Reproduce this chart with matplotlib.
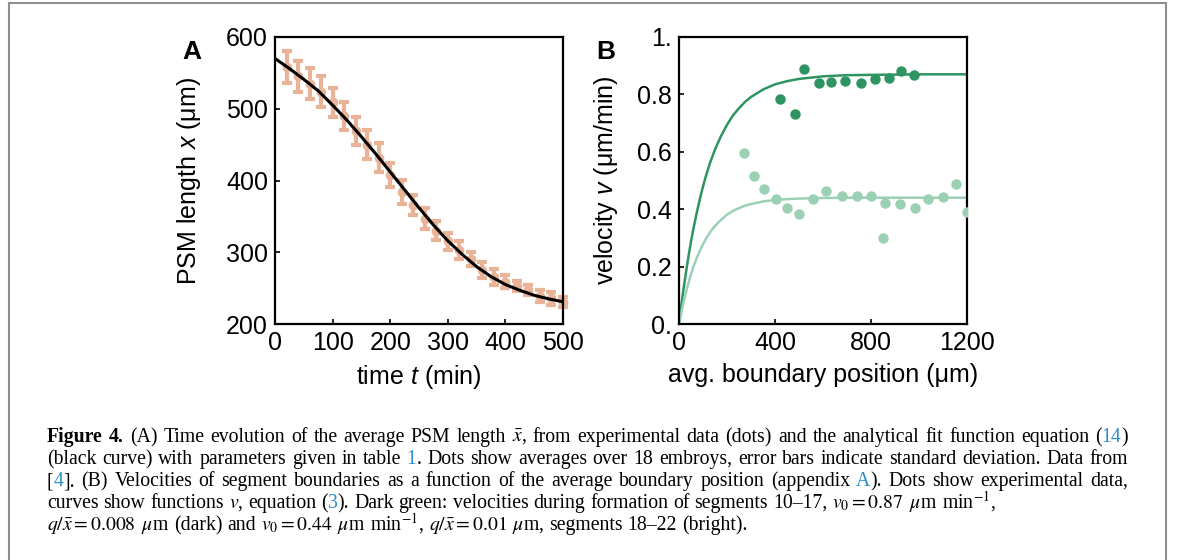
import numpy as np
import matplotlib
matplotlib.use('Agg')
import matplotlib.pyplot as plt
from matplotlib.patches import Rectangle

W, H, DPI = 1182, 560, 100

plt.rcParams['font.family'] = 'Liberation Sans'
plt.rcParams['mathtext.fontset'] = 'custom'
plt.rcParams['mathtext.rm'] = 'Liberation Sans'
plt.rcParams['mathtext.it'] = 'Liberation Sans:italic'
plt.rcParams['mathtext.bf'] = 'Liberation Sans:bold'

# --- panel A: average PSM length vs time (mean, sd over 18 embryos)
t_min = [20, 40, 60, 80, 100, 120, 140, 160, 180, 200, 220, 240, 260,
         280, 300, 320, 340, 360, 380, 400, 420, 440, 460, 480, 500]
psm_len = [558, 545, 535, 524, 509, 490, 469, 450, 432, 408, 384, 366, 347,
           330, 315, 303, 291, 275, 266, 259, 253, 247, 239, 236, 231]
psm_sd = [22, 21, 22, 21, 20, 19, 20, 20, 20, 17, 17, 14, 14,
          13, 12, 12, 10, 11, 11, 9, 7, 7, 8, 9, 7]

# analytical fit (black curve)
fit_t = [0, 25, 50, 75, 100, 125, 150, 175, 200, 225, 250, 275, 300,
         325, 350, 375, 400, 425, 450, 475, 500]
fit_len = [570, 556, 541, 525, 505, 484, 461, 437, 412, 387, 362, 338, 316,
           297, 280, 266, 255, 247, 240, 235, 231]

# --- panel B: boundary velocities vs average boundary position
dark_pos = [419, 483, 519, 583, 633, 693, 758, 818, 873, 924, 980]
dark_vel = [0.783, 0.731, 0.887, 0.838, 0.843, 0.847, 0.838, 0.855, 0.857, 0.882, 0.867]
light_pos = [271, 314, 354, 405, 452, 502, 558, 614, 680, 740, 798, 851, 857,
             919, 982, 1039, 1098, 1154, 1200]
light_vel = [0.597, 0.515, 0.469, 0.436, 0.403, 0.382, 0.435, 0.463, 0.447, 0.447,
             0.445, 0.298, 0.422, 0.418, 0.403, 0.435, 0.441, 0.487, 0.390]

# model curves v
curve_x = [0, 5, 10, 20, 30, 40, 50, 60, 75, 90, 100, 115, 130, 150, 175, 200,
           225, 250, 275, 300, 350, 400, 450, 500, 600, 700, 800, 1000, 1200]
dark_curve_v = [0.0, 0.034, 0.067, 0.129, 0.185, 0.238, 0.287, 0.332, 0.392, 0.446,
                0.479, 0.524, 0.563, 0.608, 0.655, 0.694, 0.727, 0.752, 0.774, 0.791,
                0.817, 0.835, 0.846, 0.854, 0.863, 0.867, 0.868, 0.870, 0.870]
light_curve_v = [0.0, 0.021, 0.042, 0.080, 0.114, 0.145, 0.173, 0.199, 0.232, 0.261,
                 0.278, 0.301, 0.320, 0.342, 0.363, 0.381, 0.394, 0.404, 0.412, 0.418,
                 0.427, 0.432, 0.435, 0.437, 0.439, 0.440, 0.440, 0.440, 0.440]

xticksA = [0, 100, 200, 300, 400, 500]
yticksA = [200, 300, 400, 500, 600]
xticksB = [0, 400, 800, 1200]
yticksB = [0, 0.2, 0.4, 0.6, 0.8, 1.0]
ytick_labelsB = ['0.', '0.2', '0.4', '0.6', '0.8', '1.']

SALMON = '#e9b398'
DARK = '#2e9461'
LIGHT = '#9bd0b5'
BLUE = '#2a8dc8'

fig = plt.figure(figsize=(W / DPI, H / DPI), dpi=DPI)


def style_axes(ax):
    for s in ax.spines.values():
        s.set_linewidth(1.6)
    ax.tick_params(direction='in', length=3.5, width=1.2, labelsize=18, pad=5,
                   top=False, right=False)


axA = fig.add_axes([275 / W, 1 - 324 / H, 288 / W, 287 / H])
eb = axA.errorbar(t_min, psm_len, yerr=psm_sd, fmt='none', ecolor=SALMON,
                  elinewidth=3, capsize=3.6, capthick=3, zorder=2)
for a in eb.get_children():
    a.set_clip_on(False)
axA.plot(t_min, psm_len, 'o', color=SALMON, ms=7, mew=0, zorder=2, clip_on=False)
axA.plot(fit_t, fit_len, color='k', lw=2.2, zorder=3)
axA.set_xlim(0, 500)
axA.set_ylim(200, 600)
axA.set_xticks(xticksA)
axA.set_yticks(yticksA)
style_axes(axA)
axA.set_xlabel('time $t$ (min)', fontsize=18)
axA.set_ylabel('PSM length $x$ (μm)', fontsize=18)
axA.xaxis.set_label_coords(0.5, -0.135)
axA.yaxis.set_label_coords(-0.25, 0.5)

axB = fig.add_axes([679 / W, 1 - 324 / H, 288 / W, 287 / H])
axB.plot(curve_x, dark_curve_v, color=DARK, lw=1.8, zorder=2)
axB.plot(curve_x, light_curve_v, color=LIGHT, lw=1.8, zorder=2)
axB.plot(dark_pos, dark_vel, 'o', color=DARK, ms=7.5, mew=0, zorder=3)
axB.plot(light_pos, light_vel, 'o', color=LIGHT, ms=7.5, mew=0, zorder=3)
axB.set_xlim(0, 1200)
axB.set_ylim(0, 1)
axB.set_xticks(xticksB)
axB.set_yticks(yticksB)
axB.set_yticklabels(ytick_labelsB)
style_axes(axB)
axB.set_xlabel('avg. boundary position (μm)', fontsize=18)
axB.set_ylabel('velocity $v$ (μm/min)', fontsize=18)
axB.xaxis.set_label_coords(0.5, -0.135)
axB.yaxis.set_label_coords(-0.205, 0.5)

fig.text(182 / W, 1 - 59 / H, 'A', fontsize=19, weight='bold', va='baseline')
fig.text(596 / W, 1 - 59 / H, 'B', fontsize=19, weight='bold', va='baseline')

# outer frame of the figure box
fig.add_artist(Rectangle((9 / W, -0.05), (1166 - 9) / W, 1 - 3 / H + 0.05,
                         transform=fig.transFigure, fill=False,
                         edgecolor='#8e8e8e', lw=1.5))

# caption: (text, colour, weight) pieces per line
cap_lines = [
    [('Figure 4.', 'k', 'bold'),
     (' (A) Time evolution of the average PSM length $\\bar{x}$, from experimental data '
      '(dots) and the analytical fit function equation (', 'k', 'normal'),
     ('14', BLUE, 'normal'), (')', 'k', 'normal')],
    [('(black curve) with parameters given in table ', 'k', 'normal'),
     ('1', BLUE, 'normal'),
     ('. Dots show averages over 18 embroys, error bars indicate standard deviation. '
      'Data from', 'k', 'normal')],
    [('[', 'k', 'normal'), ('4', BLUE, 'normal'),
     ('].  (B) Velocities of segment boundaries as a function of the average boundary '
      'position (appendix ', 'k', 'normal'),
     ('A', BLUE, 'normal'),
     ('). Dots show experimental data,', 'k', 'normal')],
    [('curves show functions $v$, equation (', 'k', 'normal'), ('3', BLUE, 'normal'),
     ('). Dark green: velocities during formation of segments 10–17, $v_0=0.87$ '
      '$\\mu$m min$^{-1}$,', 'k', 'normal')],
    [('$q/\\bar{x}=0.008$ $\\mu$m (dark) and $v_0=0.44$ $\\mu$m min$^{-1}$, '
      '$q/\\bar{x}=0.01$ $\\mu$m, segments 18–22 (bright).', 'k', 'normal')],
]
cap_base = [442, 464, 486, 508, 530]
cap_justify = [True, True, True, False, False]
CAP_FS = 14.2
X0, X1 = 47, 1128

renderer = fig.canvas.get_renderer()


def caption_line(segs, y_px, justify):
    words = []
    for txt, col, wt in segs:
        parts = txt.split(' ')
        for i, p in enumerate(parts):
            if p == '':
                if i == 0 and words:
                    words[-1][3] = True
                continue
            words.append([p, col, wt, i < len(parts) - 1])
    texts = [fig.text(0, 1 - y_px / H, w[0], color=w[1], weight=w[2], fontsize=CAP_FS,
                      family='Liberation Serif', math_fontfamily='stix', va='baseline')
             for w in words]
    widths = [t.get_window_extent(renderer).width for t in texts]
    gap = CAP_FS * 0.25 * DPI / 72
    ngap = sum(1 for w in words[:-1] if w[3])
    if justify and ngap:
        gap = (X1 - X0 - sum(widths)) / ngap
    x = X0
    for t, wd, w in zip(texts, widths, words):
        t.set_x(x / W)
        x += wd + (gap if w[3] else 0)


for segs, yb, j in zip(cap_lines, cap_base, cap_justify):
    caption_line(segs, yb, j)

fig.savefig('out.png', dpi=DPI)
